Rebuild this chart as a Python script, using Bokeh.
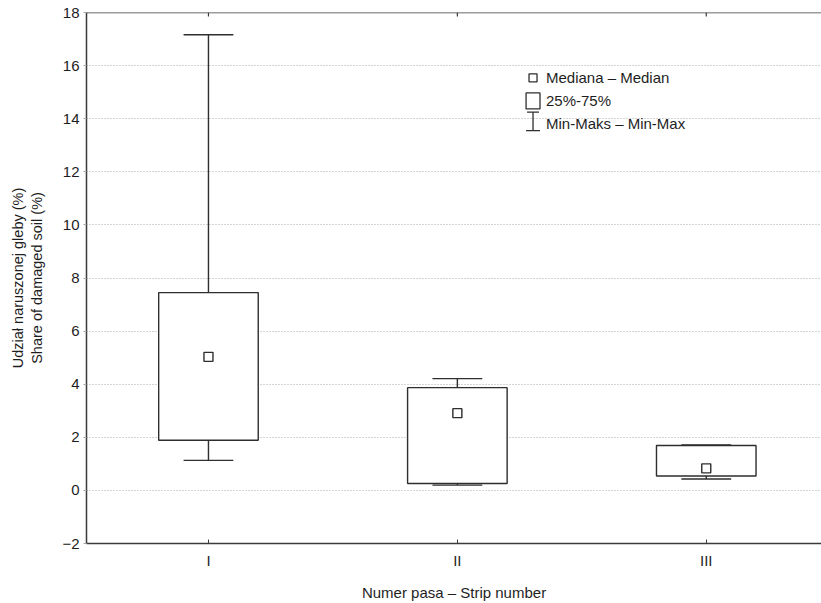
from bokeh.plotting import figure
from bokeh.models import Range1d, FixedTicker, Label, ColumnDataSource, Span
from bokeh.embed import file_html
from bokeh.resources import INLINE

# ---- data ----
categories = ["I", "II", "III"]
minimum = [1.13, 0.20, 0.43]
q1 = [1.89, 0.26, 0.54]
median = [5.03, 2.91, 0.83]
q3 = [7.45, 3.87, 1.69]
maximum = [17.16, 4.21, 1.71]
y_ticks = [-2, 0, 2, 4, 6, 8, 10, 12, 14, 16, 18]

FONT = "Liberation Sans"
AXC = "#3a3a3a"
BXC = "#2e2e2e"
TXT = "#1e1e1e"

pos = [i + 1 for i in range(len(categories))]
box_w = 0.4
cap_w = 0.2
y_lo, y_hi = -2, 18

src = ColumnDataSource(dict(
    x=pos, lo=minimum, q1=q1, med=median, q3=q3, hi=maximum,
    cap_l=[p - cap_w / 2 for p in pos], cap_r=[p + cap_w / 2 for p in pos],
))

p = figure(width=821, height=603, output_backend="svg", toolbar_location=None,
           x_range=Range1d(0.51, 3.463), y_range=Range1d(y_lo, y_hi),
           min_border_left=86, min_border_right=0, min_border_top=12, min_border_bottom=58)
p.outline_line_color = None
p.background_fill_color = "white"
p.border_fill_color = "white"

# grid
p.xgrid.visible = False
p.ygrid.ticker = FixedTicker(ticks=y_ticks)
p.ygrid.grid_line_color = "#a8a8a8"
p.ygrid.grid_line_dash = "1 2"
p.ygrid.grid_line_width = 1

# x axis
xa = p.xaxis[0]
xa.ticker = FixedTicker(ticks=pos)
xa.major_label_overrides = {pp: c for pp, c in zip(pos, categories)}
xa.minor_tick_line_color = None
xa.major_tick_in = 4
xa.major_tick_out = 0
xa.axis_line_color = AXC
xa.axis_line_width = 1.5
xa.major_tick_line_color = AXC
xa.major_label_text_font = FONT
xa.major_label_text_font_size = "15px"
xa.major_label_text_color = TXT
xa.major_label_standoff = 8
xa.axis_label = "Numer pasa – Strip number"
xa.axis_label_text_font = FONT
xa.axis_label_text_font_size = "15px"
xa.axis_label_text_font_style = "normal"
xa.axis_label_text_color = TXT
xa.axis_label_standoff = 12

# y axis
ya = p.yaxis[0]
ya.ticker = FixedTicker(ticks=y_ticks)
ya.minor_tick_line_color = None
ya.major_tick_in = 0
ya.major_tick_out = 3
ya.axis_line_color = AXC
ya.axis_line_width = 1.5
ya.major_tick_line_color = "#a8a8a8"
ya.major_label_text_font = FONT
ya.major_label_text_font_size = "15px"
ya.major_label_text_color = TXT
ya.major_label_standoff = 4
ya.axis_label = "Udział naruszonej gleby (%)\nShare of damaged soil (%)"
ya.axis_label_text_font = FONT
ya.axis_label_text_font_size = "14.5px"
ya.axis_label_text_font_style = "normal"
ya.axis_label_text_color = TXT
ya.axis_label_standoff = 14

# top frame line and inward ticks
p.add_layout(Span(location=y_hi, dimension="width", line_color=AXC, line_width=1.5))
tick_len = (y_hi - y_lo) * 4 / 529
p.segment(x0=pos, y0=[y_hi] * len(pos), x1=pos, y1=[y_hi - tick_len] * len(pos),
          line_color=AXC, line_width=1.2)

# boxes
p.segment(x0="x", y0="q3", x1="x", y1="hi", source=src, line_color=BXC, line_width=1.4)
p.segment(x0="x", y0="lo", x1="x", y1="q1", source=src, line_color=BXC, line_width=1.4)
p.segment(x0="cap_l", y0="hi", x1="cap_r", y1="hi", source=src, line_color=BXC, line_width=1.4)
p.segment(x0="cap_l", y0="lo", x1="cap_r", y1="lo", source=src, line_color=BXC, line_width=1.4)
p.vbar(x="x", width=box_w, bottom="q1", top="q3", source=src,
       fill_color="white", line_color=BXC, line_width=1.4)
p.scatter(x="x", y="med", source=src, marker="square", size=9,
          fill_color="white", line_color=BXC, line_width=1.4)

# legend (positions in data units)
lx = 2.304
p.scatter(x=[lx], y=[15.54], marker="square", size=8, fill_color="white",
          line_color=BXC, line_width=1.3)
p.quad(left=[lx - 0.028], right=[lx + 0.028], bottom=[14.37], top=[14.97],
       fill_color="white", line_color=BXC, line_width=1.3)
p.segment(x0=[lx], y0=[14.25], x1=[lx], y1=[13.55], line_color=BXC, line_width=1.3)
p.segment(x0=[lx - 0.024], y0=[14.25], x1=[lx + 0.024], y1=[14.25], line_color=BXC, line_width=1.3)
p.segment(x0=[lx - 0.028], y0=[13.55], x1=[lx + 0.028], y1=[13.55], line_color=BXC, line_width=1.3)

leg_texts = ["Mediana – Median", "25%-75%", "Min-Maks – Min-Max"]
leg_y = [15.54, 14.67, 13.82]
for t, yy in zip(leg_texts, leg_y):
    p.add_layout(Label(x=lx + 0.052, y=yy, text=t, text_font=FONT, text_font_size="15px",
                       text_baseline="middle", text_align="left", text_color=TXT))

open("out.html", "w").write(file_html(p, INLINE))
